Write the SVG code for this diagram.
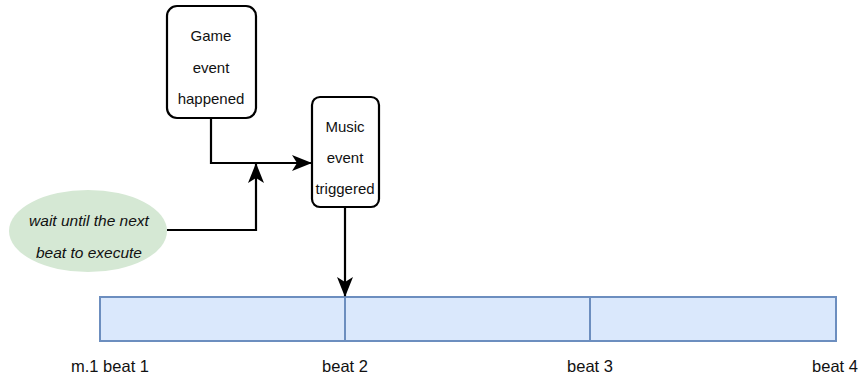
<svg xmlns="http://www.w3.org/2000/svg" width="865" height="381" viewBox="0 0 865 381">
  <style>
    .box { fill: #ffffff; stroke: #000000; stroke-width: 2.2; }
    .lbl { font-family: "Liberation Sans", Arial, sans-serif; font-size: 15px; fill: #111111; text-anchor: middle; dominant-baseline: central; }
    .note { font-family: "Liberation Sans", Arial, sans-serif; font-size: 15.5px; font-style: italic; fill: #111111; text-anchor: middle; dominant-baseline: central; }
    .beat { font-family: "Liberation Sans", Arial, sans-serif; font-size: 16.5px; fill: #111111; text-anchor: middle; dominant-baseline: central; }
    .cell { fill: #dae8fc; stroke: #6c8ebf; stroke-width: 2; }
    .wire { fill: none; stroke: #000000; stroke-width: 2.2; }
  </style>
  <defs>
    <marker id="arrow" viewBox="0 0 20 20" refX="19" refY="10" markerWidth="20" markerHeight="20" markerUnits="userSpaceOnUse" orient="auto">
      <path d="M0,2 L20,10 L0,18 L5,10 Z" fill="#000000"/>
    </marker>
  </defs>

  <rect width="865" height="381" fill="#ffffff"/>

  <!-- timeline: one measure split into beats -->
  <g id="measure">
    <rect class="cell" x="100" y="297" width="245" height="44"/>
    <rect class="cell" x="345" y="297" width="245" height="44"/>
    <rect class="cell" x="590" y="297" width="246" height="44"/>
  </g>

  <g id="beat-labels">
    <text class="beat" x="110" y="366">m.1 beat 1</text>
    <text class="beat" x="345" y="366">beat 2</text>
    <text class="beat" x="590" y="366">beat 3</text>
    <text class="beat" x="835" y="366">beat 4</text>
  </g>

  <g id="note">
    <ellipse cx="88" cy="231" rx="79" ry="41" fill="#d5e8d4"/>
    <text class="note" x="89" y="220">wait until the next</text>
    <text class="note" x="89" y="252">beat to execute</text>
  </g>

  <g id="game-event">
    <rect class="box" x="167" y="6" width="89" height="112" rx="10"/>
    <text class="lbl" x="211" y="35">Game</text>
    <text class="lbl" x="211" y="67">event</text>
    <text class="lbl" x="211" y="98">happened</text>
  </g>

  <g id="music-event">
    <rect class="box" x="312" y="97" width="67" height="110" rx="8"/>
    <text class="lbl" x="345" y="126">Music</text>
    <text class="lbl" x="345" y="157">event</text>
    <text class="lbl" x="345" y="188">triggered</text>
  </g>

  <g id="connectors">
    <path class="wire" d="M211,118 L211,163 L311,163" marker-end="url(#arrow)"/>
    <path class="wire" d="M167,230 L256,230 L256,164" marker-end="url(#arrow)"/>
    <path class="wire" d="M345,207 L345,296" marker-end="url(#arrow)"/>
  </g>
</svg>
